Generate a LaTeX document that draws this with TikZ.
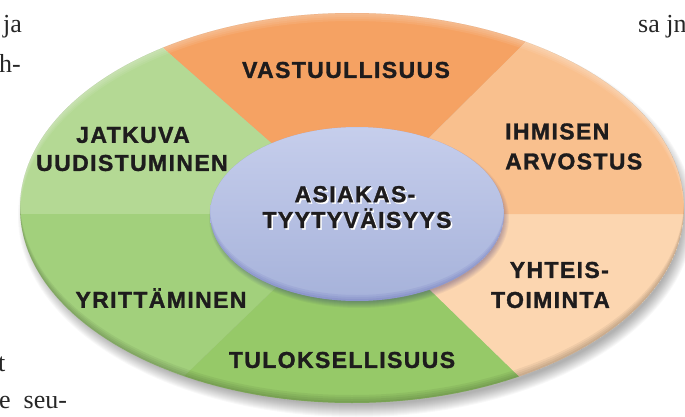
\documentclass[tikz,border=0pt]{standalone}
\usepackage{fontspec}
\setmainfont{Liberation Serif}
\newfontfamily\labfont[LetterSpace=6,FakeBold=1.3]{Liberation Sans}
\usetikzlibrary{calc}
\definecolor{cTop}{RGB}{245,162,99}
\definecolor{cTR}{RGB}{249,192,142}
\definecolor{cBR}{RGB}{252,214,176}
\definecolor{cBot}{RGB}{150,201,104}
\definecolor{cBL}{RGB}{162,208,124}
\definecolor{cTL}{RGB}{180,217,148}
\definecolor{inTop}{RGB}{198,206,236}
\definecolor{inBot}{RGB}{166,178,218}
\definecolor{labtext}{RGB}{30,28,29}
\newcommand\shtext[1]{\leavevmode\rlap{\kern1.6pt\raisebox{-1.6pt}{\color{white}#1}}#1}
\begin{document}
\begin{tikzpicture}[x=1pt,y=1pt,
  lab/.style={font=\labfont\bfseries\fontsize{23}{29}\selectfont, text=labtext, inner sep=0pt},
  stray/.style={font=\fontsize{26}{30}\selectfont, text=black!85, inner sep=0pt, anchor=base west}]
\useasboundingbox (0,0) rectangle (685,416);
\coordinate (O) at (352,208);
\coordinate (P) at (352,202);
\coordinate (I) at (357,202);
% outer shadow
\foreach \i in {0,...,12}
  \fill[black,opacity=0.026] ($(O)+(4,-8)$) ellipse [x radius={326+\i}, y radius={189+\i}];
% sectors
\begin{scope}
  \clip (O) ellipse [x radius=332, y radius=195];
  \fill[cTop] (P) -- ($(P)+(44.7:800)$) -- ($(P)+(91.7:800)$) -- ($(P)+(138.7:800)$) -- cycle;
  \fill[cTL] (P) -- ($(P)+(138.7:800)$) -- ($(P)+(180:800)$) -- cycle;
  \fill[cBL] (P) -- ($(P)+(180:800)$) -- ($(P)+(224:800)$) -- cycle;
  \fill[cBot] (P) -- ($(P)+(224:800)$) -- ($(P)+(270:800)$) -- ($(P)+(315.8:800)$) -- cycle;
  \fill[cBR] (P) -- ($(P)+(315.8:800)$) -- ($(P)+(360:800)$) -- cycle;
  \fill[cTR] (P) -- ($(P)+(0:800)$) -- ($(P)+(44.7:800)$) -- cycle;
  % rim effects
  \foreach \d in {2,4,6,8}
    \fill[black,opacity=0.05,even odd rule] (O) ellipse [x radius=332, y radius=195]
      ($(O)+(0,\d)$) ellipse [x radius=332, y radius=195];
  \foreach \d in {2,4,6,8}
    \fill[white,opacity=0.08,even odd rule] (O) ellipse [x radius=332, y radius=195]
      ($(O)+(0,-\d)$) ellipse [x radius=332, y radius=195];
\end{scope}
% inner shadow
\foreach \i in {0,...,6}
  \fill[black!60!blue,opacity=0.045] ($(I)+(2,-4)$) ellipse [x radius={144+\i}, y radius={84+\i}];
\shade[top color=inTop, bottom color=inBot] (I) ellipse [x radius=147, y radius=87];
\begin{scope}
  \clip (I) ellipse [x radius=147, y radius=87];
  \foreach \d in {2,4,6}
    \fill[black!50!blue,opacity=0.05,even odd rule] (I) ellipse [x radius=147, y radius=87]
      ($(I)+(0,\d)$) ellipse [x radius=147, y radius=87];
\end{scope}
% labels
\node[lab] (vast) at (346,346) {VASTUULLISUUS};
\node[lab] (jat1) at (133,281) {JATKUVA};
\node[lab] (jat2) at (132,253) {UUDISTUMINEN};
\node[lab,anchor=west] (ihm1) at (505,284.5) {IHMISEN};
\node[lab,anchor=west] (ihm2) at (505,254.5) {ARVOSTUS};
\node[lab,anchor=east] (yht1) at (609,146) {YHTEIS-};
\node[lab,anchor=east] (yht2) at (610,116) {TOIMINTA};
\node[lab] (yrit) at (161,118) {YRITTÄMINEN};
\node[lab] (tulo) at (342,56) {TULOKSELLISUUS};
\node[lab] (asi1) at (355,221) {\shtext{ASIAKAS-}};
\node[lab] (asi2) at (357,197) {\shtext{TYYTYVÄISYYS}};
% page fragments
\node[stray] (f1) at (3,383) {ja};
\node[stray] (f2) at (-1,344) {h-};
\node[stray] (f3) at (638,383) {sa jn};
\node[stray] (f4) at (-2,45) {t};
\node[stray] (f5) at (-1,8) {e\ \ seu-};
\end{tikzpicture}
\end{document}
